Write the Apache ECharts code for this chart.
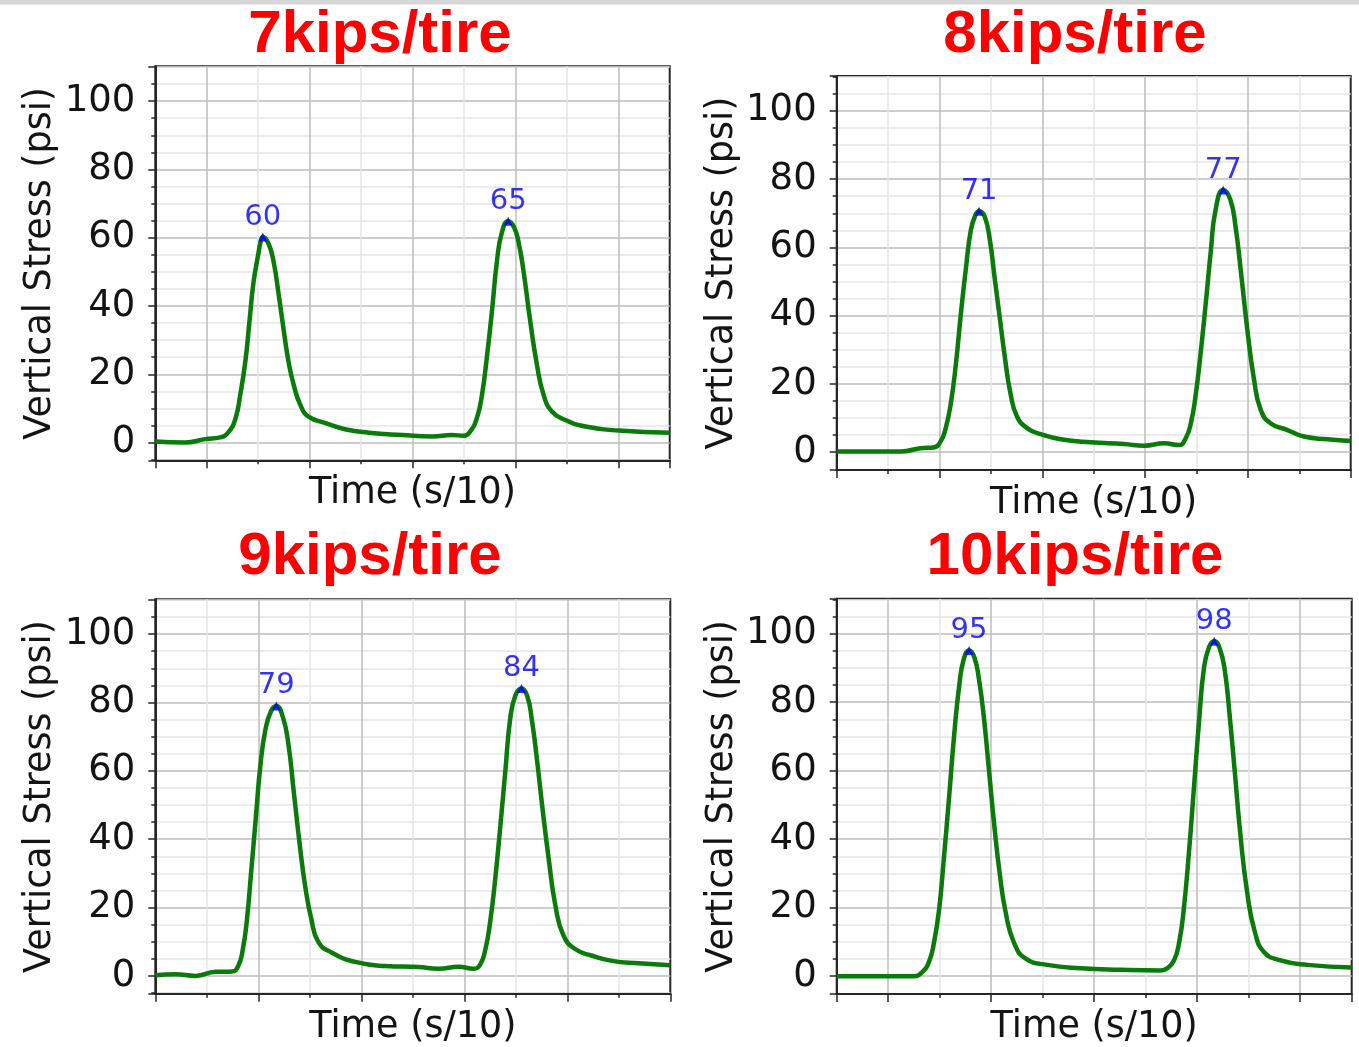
<!DOCTYPE html>
<html>
<head>
<meta charset="utf-8">
<title>Vertical Stress</title>
<script src="https://cdn.jsdelivr.net/npm/echarts@6.0.0/dist/echarts.min.js"></script>
<style>
  html, body { margin: 0; padding: 0; background: #fff; }
  #chart { width: 1359px; height: 1047px; }
</style>
</head>
<body>
<div id="chart"></div>
<script>
// panel titles
const titles = ['7kips/tire', '8kips/tire', '9kips/tire', '10kips/tire']

// time (grid units, major grid lines on even values) and stress (psi)
const time7 = [-1, -0.42, -0.03, 0.26, 0.43, 0.56, 0.65, 0.75, 0.83, 0.91, 1.0, 1.05, 1.09, 1.2, 1.3, 1.4, 1.5, 1.59, 1.69, 1.82, 1.98, 2.31, 2.69, 3.15, 3.8, 4.38, 4.77, 4.99, 5.12, 5.25, 5.35, 5.45, 5.55, 5.64, 5.74, 5.86, 5.97, 6.06, 6.16, 6.29, 6.42, 6.55, 6.71, 6.97, 7.36, 8.01, 9]
const stress7 = [0.3, 0.0, 1.0, 1.5, 3.2, 7.1, 13.9, 23.7, 35.4, 47, 55, 59, 60.2, 58.3, 52.9, 43.2, 32.5, 23.7, 16.9, 11.0, 7.6, 5.7, 3.9, 2.9, 2.2, 1.75, 2.2, 2.0, 3.2, 7.1, 13.9, 25.6, 39.3, 52.9, 61.7, 64.8, 63.2, 58.8, 50, 35.4, 22.7, 13.9, 9.1, 6.6, 4.7, 3.5, 2.9]

const time8 = [0, 1.25, 1.63, 1.89, 2.02, 2.12, 2.22, 2.32, 2.41, 2.51, 2.61, 2.7, 2.77, 2.88, 2.98, 3.07, 3.17, 3.27, 3.38, 3.51, 3.71, 3.97, 4.36, 4.94, 5.59, 5.98, 6.37, 6.66, 6.79, 6.89, 6.98, 7.08, 7.18, 7.28, 7.37, 7.52, 7.66, 7.76, 7.86, 7.99, 8.12, 8.25, 8.44, 8.77, 9.09, 9.55, 10]
const stress8 = [0.2, 0.2, 1.2, 1.4, 3.1, 7.0, 14.3, 26, 39.7, 53.4, 65.1, 69.5, 70.6, 69, 62.1, 51.4, 39.7, 28, 17.3, 10.4, 7.0, 5.3, 3.8, 2.9, 2.4, 1.9, 2.6, 2.1, 4.1, 8.5, 16.3, 29, 43.6, 59.2, 70.9, 76.8, 73.9, 66, 53.4, 35.8, 21.2, 12.4, 8.5, 6.5, 4.6, 3.8, 3.3]

const time9 = [0, 0.39, 0.78, 1.17, 1.49, 1.61, 1.7, 1.78, 1.86, 1.95, 2.04, 2.14, 2.25, 2.35, 2.47, 2.58, 2.69, 2.8, 2.91, 3.03, 3.17, 3.43, 3.88, 4.47, 5.11, 5.5, 5.89, 6.18, 6.31, 6.41, 6.5, 6.6, 6.7, 6.8, 6.89, 6.99, 7.11, 7.22, 7.31, 7.41, 7.52, 7.64, 7.77, 7.93, 8.16, 8.48, 8.87, 9.39, 10]
const stress9 = [0.2, 0.5, 0, 1.2, 1.3, 2.9, 7.8, 16.6, 30.2, 45.9, 61.5, 72.2, 77.6, 79.0, 76.1, 68.3, 53.7, 39, 26.3, 16.6, 9.8, 6.8, 4.1, 2.9, 2.6, 2.1, 2.7, 2.1, 3.4, 7.8, 15.6, 28.3, 43.9, 60.5, 75.1, 82, 84.1, 82, 75.1, 63.4, 48.8, 34.1, 20.5, 11.7, 7.8, 5.9, 4.4, 3.7, 3.1]

const time10 = [-1, 0.5, 0.66, 0.79, 0.89, 0.99, 1.08, 1.18, 1.28, 1.38, 1.47, 1.57, 1.67, 1.76, 1.86, 1.96, 2.06, 2.17, 2.28, 2.44, 2.67, 3.09, 3.74, 4.51, 5.29, 5.42, 5.55, 5.65, 5.74, 5.84, 5.94, 6.04, 6.13, 6.23, 6.33, 6.44, 6.54, 6.63, 6.73, 6.84, 6.97, 7.12, 7.3, 7.62, 8.14, 9]
const stress10 = [0, 0, 1.2, 4.1, 9.9, 19.7, 34.3, 51.8, 70.3, 84.9, 92.7, 95.1, 93.2, 86.9, 75.2, 59.6, 44, 29.4, 18.7, 9.9, 5.1, 3.3, 2.3, 1.85, 1.65, 2.3, 4.6, 9.9, 19.7, 36.2, 55.7, 75.2, 89.8, 96.1, 97.8, 95.6, 88.8, 76.1, 59.6, 41.1, 24.5, 12.9, 7.0, 4.6, 3.3, 2.5]

// peaks (blue markers)
const peakTime7 = [1.09, 5.86]
const peakStress7 = [60.2, 64.8]
const peakTime8 = [2.77, 7.52]
const peakStress8 = [70.6, 76.8]
const peakTime9 = [2.35, 7.11]
const peakStress9 = [79.0, 84.1]
const peakTime10 = [1.57, 6.33]
const peakStress10 = [95.1, 97.8]

// axis ranges
const timeRanges = [[-1, 9], [0, 10], [0, 10], [-1, 9]]
const stressMin = -5.2
const stressMax = 110.2

const curves = [[time7, stress7], [time8, stress8], [time9, stress9], [time10, stress10]]
const peaks = [[peakTime7, peakStress7], [peakTime8, peakStress8], [peakTime9, peakStress9], [peakTime10, peakStress10]]

// layout of the four panels
const grids = [
  { left: 155.3, top: 66.3, width: 514.4, height: 394 },
  { left: 836.7, top: 76, width: 514, height: 394 },
  { left: 155.3, top: 599.3, width: 515, height: 394.4 },
  { left: 836.7, top: 598.7, width: 515, height: 395.6 }
]
const titlePos = [[380, 5], [1075, 5], [370, 527], [1075, 527]]

const FONT = 'DejaVu Sans'
const TEXT = '#141414'
const AXIS = '#262626'

const zip = (xs, ys) => xs.map((x, i) => [x, ys[i]])

let myChart = echarts.init(document.getElementById('chart'), null, { renderer: 'canvas' })

let option = {
  backgroundColor: '#fff',
  animation: false,
  graphic: [{
    type: 'rect',
    left: 0,
    top: 0,
    shape: { width: 1359, height: 4.5 },
    style: { fill: '#d6d6d6' }
  }],
  title: titles.map((t, i) => ({
    text: t,
    left: titlePos[i][0],
    top: titlePos[i][1],
    textAlign: 'center',
    padding: 0,
    textStyle: {
      color: '#ff0000',
      fontSize: 60,
      fontWeight: 'bold',
      fontFamily: 'Liberation Sans'
    }
  })),
  grid: grids.map(g => Object.assign({
    show: true,
    borderColor: AXIS,
    borderWidth: 2,
    backgroundColor: '#fff',
    containLabel: false
  }, g)),
  xAxis: timeRanges.map((r, i) => ({
    type: 'value',
    gridIndex: i,
    min: r[0],
    max: r[1],
    splitNumber: 5,
    name: 'Time (s/10)',
    nameLocation: 'middle',
    nameGap: 15,
    nameTextStyle: { fontSize: 36.5, fontFamily: FONT, color: TEXT },
    axisLabel: { show: false },
    axisLine: { show: true, onZero: false, lineStyle: { color: AXIS, width: 2 } },
    axisTick: { show: true, length: 8, lineStyle: { color: AXIS, width: 1.5 } },
    minorTick: { show: true, splitNumber: 2, length: 4, lineStyle: { color: AXIS, width: 1.5 } },
    splitLine: { show: true, showMinLine: false, showMaxLine: false, lineStyle: { color: '#bdbdbd', width: 1.5 } },
    minorSplitLine: { show: true, lineStyle: { color: '#e6e6e6', width: 1.5 } }
  })),
  yAxis: grids.map((g, i) => ({
    type: 'value',
    gridIndex: i,
    min: stressMin,
    max: stressMax,
    splitNumber: 5,
    name: 'Vertical Stress (psi)',
    nameLocation: 'middle',
    nameGap: 96,
    nameTextStyle: { fontSize: 36.5, fontFamily: FONT, color: TEXT },
    axisLabel: {
      fontSize: 37,
      fontFamily: FONT,
      color: TEXT,
      margin: 20,
      padding: [10, 0, 0, 0],
      showMinLabel: false,
      showMaxLabel: false
    },
    axisLine: { show: true, onZero: false, lineStyle: { color: AXIS, width: 2 } },
    axisTick: { show: true, length: 7, lineStyle: { color: AXIS, width: 1.5 } },
    minorTick: { show: true, splitNumber: 4, length: 4, lineStyle: { color: AXIS, width: 1.5 } },
    splitLine: { show: true, showMinLine: false, showMaxLine: false, lineStyle: { color: '#bdbdbd', width: 1.5 } },
    minorSplitLine: { show: true, lineStyle: { color: '#e6e6e6', width: 1.5 } }
  })),
  series: []
}

curves.forEach((c, i) => {
  option.series.push({
    type: 'line',
    xAxisIndex: i,
    yAxisIndex: i,
    data: zip(c[0], c[1]),
    symbol: 'none',
    smooth: 0.5,
    lineStyle: { color: '#0a7a0a', width: 4.5 },
    z: 3
  })
  option.series.push({
    type: 'scatter',
    xAxisIndex: i,
    yAxisIndex: i,
    data: zip(peaks[i][0], peaks[i][1]),
    symbol: 'triangle',
    symbolSize: 9,
    itemStyle: { color: '#0000ff' },
    label: {
      show: true,
      position: 'top',
      distance: 1,
      formatter: p => Math.round(p.value[1]),
      color: '#0000f0',
      fontSize: 29,
      fontFamily: FONT
    },
    z: 4
  })
})

myChart.setOption(option)
</script>
</body>
</html>
